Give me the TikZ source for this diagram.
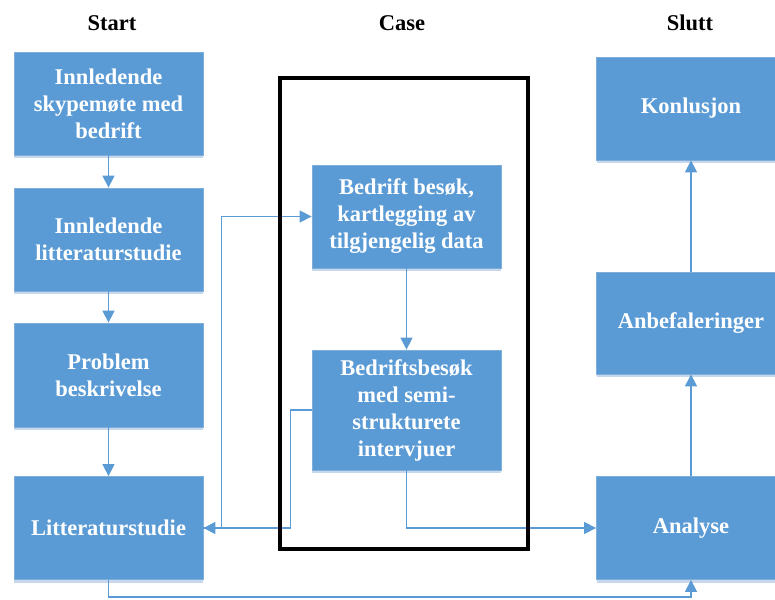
\documentclass[tikz,border=0pt]{standalone}
\usepackage{fontspec}
\setmainfont{Liberation Serif}
\usetikzlibrary{arrows.meta,shadows}
\definecolor{boxblue}{HTML}{5B9BD5}
\definecolor{boxedge}{HTML}{7FAEDB}
\definecolor{shadowblue}{HTML}{C8D8EC}
\definecolor{linkblue}{HTML}{5B9BD5}
\tikzset{
  stage/.style={draw=boxedge, line width=0.8pt, fill=boxblue, text=white,
    minimum width=189pt, inner sep=0pt, align=center,
    font=\fontsize{22.5}{27}\selectfont\bfseries,
    drop shadow={shadow xshift=0pt, shadow yshift=-3pt, fill=shadowblue, opacity=1}},
  head/.style={font=\fontsize{22.5}{26}\selectfont\bfseries, text=black},
  conn/.style={draw=linkblue, line width=1.3pt, -{Triangle[length=12pt,width=12pt]}},
  casebox/.style={draw=black, line width=4pt}
}
\begin{document}
\begin{tikzpicture}[x=1pt, y=-1pt]
  \useasboundingbox (0,0) rectangle (775,599);
  \clip (0,0) rectangle (775,599);

  % column headings
  \node[head] (hstart) at (112,23) {Start};
  \node[head] (hcase)  at (402,23) {Case};
  \node[head] (hslutt) at (690,23) {Slutt};

  % left column
  \node[stage, minimum height=103pt] (b1) at (108.5,103.5) {Innledende\\skypemøte med\\bedrift};
  \node[stage, minimum height=103pt] (b2) at (108.5,239.5) {Innledende\\litteraturstudie};
  \node[stage, minimum height=104pt] (b3) at (108.5,375) {Problem\\beskrivelse};
  \node[stage, minimum height=103pt] (b4) at (108.5,528) {Litteraturstudie};

  % case column
  \node[stage, minimum height=103pt] (b5) at (406.5,216.5) {Bedrift besøk,\\kartlegging av\\tilgjengelig data};
  \node[stage, minimum height=120pt] (b6) at (406.5,410) {Bedriftsbesøk\\med semi-\\strukturete\\intervjuer};

  % right column
  \node[stage, minimum height=103pt] (b7) at (691,108.5) {Konlusjon};
  \node[stage, minimum height=102pt] (b8) at (691,323) {Anbefaleringer};
  \node[stage, minimum height=103pt] (b9) at (691,528) {Analyse};

  % connectors
  \draw[conn] (b1) -- (b2);
  \draw[conn] (b2) -- (b3);
  \draw[conn] (b3) -- (b4);
  \draw[conn] (b5) -- (b6);
  \draw[conn] (b9) -- (b8);
  \draw[conn] (b8) -- (b7);
  \draw[conn] (b6.west) -- ++(-21,0) |- (b4.east);
  \draw[conn] (b4.east) -- ++(18,0) |- (b5.west);
  \draw[conn] (b6.south) |- (b9.west);
  \draw[conn] (b4.south) -- ++(0,17) -| (b9.south);

  % frame around the case column
  \draw[casebox] (280,78) rectangle (528,549);
\end{tikzpicture}
\end{document}
